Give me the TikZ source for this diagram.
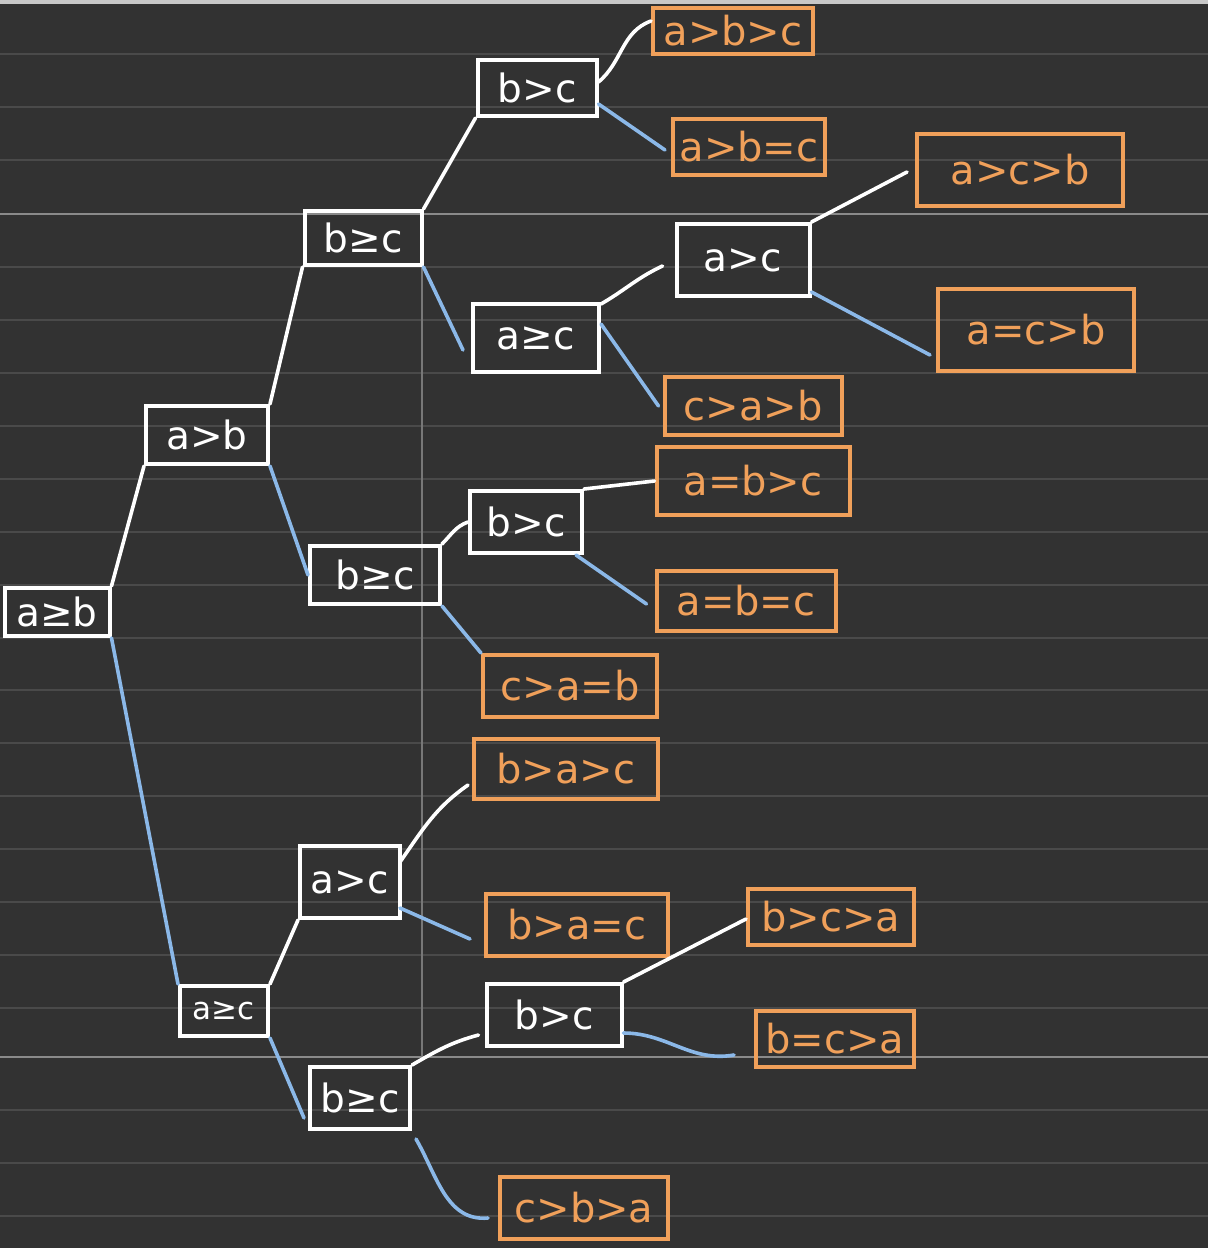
\documentclass[tikz,border=0pt]{standalone}
\usepackage{fontspec}
\setmainfont{DejaVu Sans}
\usetikzlibrary{calc}
\definecolor{bgc}{HTML}{323232}
\definecolor{rulec}{HTML}{4A4A4A}
\definecolor{rulebright}{HTML}{8A8A8A}
\definecolor{topc}{HTML}{C8C8C8}
\definecolor{bluec}{HTML}{8BB8E8}
\definecolor{orangec}{HTML}{F0A05A}
\tikzset{
  inner/.style={draw=white, line width=4pt, text=white, inner sep=0pt,
    font=\fontsize{39}{42}\selectfont, anchor=center},
  leaf/.style={draw=orangec, line width=4pt, text=orangec, inner sep=0pt,
    font=\fontsize{40}{44}\selectfont, anchor=center},
  yes/.style={draw=white, line width=3.6pt, line cap=round},
  no/.style={draw=bluec, line width=3.6pt, line cap=round},
  sz/.style 2 args={minimum width=#1pt, minimum height=#2pt}
}
\begin{document}
\begin{tikzpicture}[x=1pt,y=-1pt]
\fill[bgc] (0,0) rectangle (1208,1248);
\useasboundingbox (0,0) rectangle (1208,1248);
\fill[topc] (0,0) rectangle (1208,4);
\foreach \yy in {54,107,160,267,320,373,426,479,532,585,638,690,743,796,849,902,955,1008,1110,1163,1216}
  \draw[rulec, line width=1.3pt] (0,\yy) -- (1208,\yy);
\draw[rulebright, line width=1.5pt] (0,214) -- (1208,214);
\draw[rulebright, line width=1.5pt] (0,1057) -- (1208,1057);
\draw[rulebright!80!bgc, line width=1.3pt] (422,214) -- (422,1057);

% internal nodes
\node[inner, sz={105}{48}] (root) at (57,612) {a≥b};
\node[inner, sz={122}{58}] (ab) at (207,435) {a>b};
\node[inner, sz={117}{54}] (bc1) at (363,238) {b≥c};
\node[inner, sz={119}{56}] (bc2) at (537,88) {b>c};
\node[inner, sz={126}{68}] (ac1) at (536,338) {a≥c};
\node[inner, sz={133}{72}] (ac2) at (743,260) {a>c};
\node[inner, sz={130}{58}] (bc3) at (375,575) {b≥c};
\node[inner, sz={112}{62}] (bc4) at (526,522) {b>c};
\node[inner, sz={88}{50}, font=\fontsize{31}{34}\selectfont] (ac3) at (224,1011) {a≥c};
\node[inner, sz={100}{72}] (ac4) at (350,882) {a>c};
\node[inner, sz={100}{62}] (bc5) at (360,1098) {b≥c};
\node[inner, sz={135}{62}] (bc6) at (554,1015) {b>c};

% leaves
\node[leaf, sz={160}{46}] (l1) at (733,31) {a>b>c};
\node[leaf, sz={152}{56}] (l2) at (749,147) {a>b=c};
\node[leaf, sz={206}{72}] (l3) at (1020,170) {a>c>b};
\node[leaf, sz={196}{82}] (l4) at (1036,330) {a=c>b};
\node[leaf, sz={177}{58}] (l5) at (753,406) {c>a>b};
\node[leaf, sz={193}{68}] (l6) at (753,481) {a=b>c};
\node[leaf, sz={179}{60}] (l7) at (746,601) {a=b=c};
\node[leaf, sz={174}{62}] (l8) at (570,686) {c>a=b};
\node[leaf, sz={184}{60}] (l9) at (566,769) {b>a>c};
\node[leaf, sz={182}{62}] (l10) at (577,925) {b>a=c};
\node[leaf, sz={166}{56}] (l11) at (831,917) {b>c>a};
\node[leaf, sz={158}{56}] (l12) at (835,1039) {b=c>a};
\node[leaf, sz={168}{62}] (l13) at (584,1208) {c>b>a};

% connectors
\draw[yes] (root.north east) -- (ab.south west);
\draw[no] (root.south east) -- (ac3.north west);
\draw[yes] (ab.north east) -- (bc1.south west);
\draw[no] (ab.south east) -- (bc3.west);
\draw[yes] (bc1.north east) -- (bc2.south west);
\draw[no] (bc1.south east) -- ($(ac1.west)+(-8,12)$);
\draw[yes] ($(bc2.east)+(0,-6)$) to[out=40,in=200] ($(l1.west)+(0,-10)$);
\draw[no] ($(bc2.south east)+(0,-14)$) -- ($(l2.west)+(-6,3)$);
\draw[yes] ($(ac1.north east)+(0,2)$) to[out=30,in=205] ($(ac2.west)+(-12,6)$);
\draw[no] ($(ac1.east)+(0,-14)$) -- ($(l5.west)+(-4,0)$);
\draw[yes] (ac2.north east) -- ($(l3.west)+(-8,2)$);
\draw[no] ($(ac2.south east)+(0,-6)$) -- ($(l4.west)+(-6,25)$);
\draw[yes] (bc3.north east) to[out=45,in=200] (bc4.west);
\draw[no] (bc3.south east) -- (l8.north west);
\draw[yes] (bc4.north east) -- (l6.west);
\draw[no] ($(bc4.south east)+(-8,0)$) -- ($(l7.west)+(-8,3)$);
\draw[yes] (ac3.north east) -- (ac4.south west);
\draw[no] (ac3.south east) -- ($(bc5.west)+(-4,20)$);
\draw[yes] ($(ac4.east)+(-2,-20)$) to[out=55,in=215] ($(l9.west)+(-4,16)$);
\draw[no] ($(ac4.south east)+(-2,-12)$) -- ($(l10.west)+(-14,14)$);
\draw[yes] (bc5.north east) to[out=30,in=195] ($(bc6.west)+(-6,20)$);
\draw[no] ($(bc5.south east)+(4,8)$) to[out=-60,in=185] ($(l13.west)+(-10,10)$);
\draw[yes] (bc6.north east) -- ($(l11.west)+(0,2)$);
\draw[no] ($(bc6.east)+(0,18)$) to[out=0,in=190] ($(l12.west)+(-20,16)$);
\end{tikzpicture}
\end{document}
